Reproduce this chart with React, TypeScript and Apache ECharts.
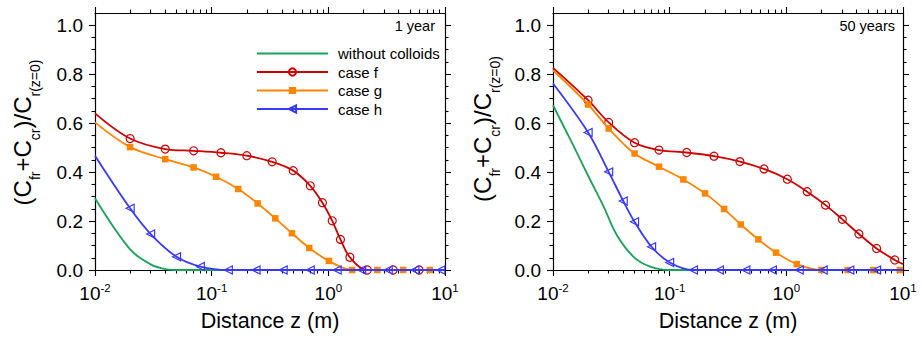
import React, { useEffect, useRef } from "react";
import * as echarts from "echarts";

const FONT = "'Liberation Sans', Arial, Helvetica, sans-serif";

// Tick values
const xMinorTicks = [
  0.02, 0.03, 0.04, 0.05, 0.06, 0.07, 0.08, 0.09,
  0.2, 0.3, 0.4, 0.5, 0.6, 0.7, 0.8, 0.9,
  2, 3, 4, 5, 6, 7, 8, 9,
];
const yMajorTicks = [0, 0.2, 0.4, 0.6, 0.8, 1.0];
const yMinorTicks = [0.05, 0.1, 0.15, 0.25, 0.3, 0.35, 0.45, 0.5, 0.55, 0.65, 0.7, 0.75, 0.85, 0.9, 0.95];

const seriesNames = ["without colloids", "case f", "case g", "case h"];
const panelTitles = ["1 year", "50 years"];
// y title pieces: [text, isSubscript]
const yTitleParts: [string, boolean][] = [
  ["(C", false], ["fr", true], ["+C", false], ["cr", true], [")/C", false], ["r(z=0)", true],
];
const xTitle = "Distance z (m)";

// Panel 1: 1 year
const noColloids1: [number, number][] = [
  [0.01, 0.293], [0.02, 0.084], [0.03, 0.023], [0.04, 0.004], [0.055, 0], [10, 0],
];
const caseF1: [number, number][] = [
  [0.01, 0.64], [0.02, 0.537], [0.04, 0.494], [0.07, 0.487], [0.12, 0.479], [0.2, 0.467],
  [0.33, 0.442], [0.5, 0.406], [0.7, 0.344], [0.89, 0.275], [1.08, 0.201], [1.27, 0.125],
  [1.53, 0.052], [2.16, 0], [3.6, 0], [6.0, 0], [10, 0],
];
const caseG1: [number, number][] = [
  [0.01, 0.603], [0.02, 0.502], [0.04, 0.453], [0.07, 0.419], [0.109, 0.381], [0.169, 0.331],
  [0.248, 0.272], [0.351, 0.211], [0.488, 0.15], [0.686, 0.09], [1.01, 0.037], [1.6, 0],
  [2.63, 0], [4.38, 0], [7.4, 0], [10, 0],
];
const caseH1: [number, number][] = [
  [0.01, 0.467], [0.02, 0.252], [0.03, 0.147], [0.05, 0.054], [0.08, 0.014], [0.139, 0],
  [0.24, 0], [0.41, 0], [0.7, 0], [1.19, 0], [1.93, 0], [3.26, 0], [5.52, 0], [9.2, 0], [10, 0],
];

// Panel 2: 50 years
const noColloids2: [number, number][] = [
  [0.01, 0.673], [0.015, 0.507], [0.02, 0.385], [0.027, 0.262], [0.035, 0.145], [0.049, 0.054],
  [0.068, 0.014], [0.1, 0], [10, 0],
];
const caseF2: [number, number][] = [
  [0.01, 0.826], [0.02, 0.694], [0.03, 0.603], [0.05, 0.52], [0.081, 0.49], [0.14, 0.48],
  [0.24, 0.465], [0.4, 0.443], [0.644, 0.413], [1.02, 0.371], [1.51, 0.32], [2.17, 0.265],
  [3.02, 0.207], [4.19, 0.147], [5.94, 0.088], [8.5, 0.041], [10, 0.024],
];
const caseG2: [number, number][] = [
  [0.01, 0.816], [0.02, 0.676], [0.03, 0.578], [0.05, 0.476], [0.081, 0.422], [0.131, 0.37],
  [0.201, 0.313], [0.293, 0.249], [0.407, 0.186], [0.576, 0.125], [0.817, 0.071], [1.23, 0.024],
  [2.0, 0], [3.35, 0], [5.56, 0], [9.4, 0], [10, 0],
];
const caseH2: [number, number][] = [
  [0.01, 0.762], [0.02, 0.562], [0.03, 0.401], [0.04, 0.282], [0.05, 0.197], [0.07, 0.095],
  [0.1, 0.031], [0.16, 0], [0.267, 0], [0.45, 0], [0.76, 0], [1.29, 0], [2.07, 0], [3.5, 0],
  [5.94, 0], [10, 0],
];

const COLORS = ["#18a35a", "#d00000", "#ff8400", "#3838ff"];

const panelData = [
  [noColloids1, caseF1, caseG1, caseH1],
  [noColloids2, caseF2, caseG2, caseH2],
];

const GRIDS = [
  { left: 95, top: 13, width: 350, height: 257 },
  { left: 553, top: 13, width: 350, height: 257 },
];
// y-title anchor (centre of main glyph line)
const Y_TITLE_POS = [
  [22, 132.5],
  [482, 129],
];
const MAIN_SIZE = 24;
const SUB_SIZE = 14;
const SUB_SHIFT = 13;

function measure(text: string, size: number) {
  const c = document.createElement("canvas").getContext("2d");
  if (!c) return text.length * size * 0.55;
  c.font = `${size}px 'Liberation Sans', Arial, sans-serif`;
  return c.measureText(text).width;
}

function yTitleGraphic(cx: number, cy: number) {
  const widths = yTitleParts.map(([t, sub]) => measure(t, sub ? SUB_SIZE : MAIN_SIZE));
  const total = widths.reduce((a, b) => a + b, 0);
  let pos = -total / 2;
  const children = yTitleParts.map(([t, sub], i) => {
    const el = {
      type: "text",
      x: pos,
      y: sub ? SUB_SHIFT : 0,
      style: {
        text: t,
        fontFamily: FONT,
        fontSize: sub ? SUB_SIZE : MAIN_SIZE,
        fill: "#000",
        align: "left",
        verticalAlign: "middle",
      },
    };
    pos += widths[i];
    return el;
  });
  return { type: "group", x: cx, y: cy, rotation: Math.PI / 2, children };
}

function buildAxes(g: number) {
  const axisLine = { show: true, onZero: false, lineStyle: { color: "#000", width: 1.2 } };
  const noLine = { show: false, onZero: false };
  const majorTick = { show: true, inside: false, length: 6, lineStyle: { color: "#000", width: 1.1 } };
  const minorTick = { show: true, inside: false, length: 3.5, lineStyle: { color: "#000", width: 1.1 } };
  const minorX = xMinorTicks.map((v) => Math.log10(v));
  const xa: any[] = [
    {
      type: "log", logBase: 10, gridIndex: g, position: "bottom", min: 0.01, max: 10,
      axisLine, axisTick: majorTick, splitLine: { show: false }, minorTick: { show: false },
      axisLabel: {
        show: true, margin: 12, color: "#000", fontFamily: FONT, fontSize: 19, lineHeight: 22,
        formatter: (v: number) => `10{sup|${Math.round(Math.log10(v))}}`,
        rich: { sup: { fontSize: 11.5, lineHeight: 11, verticalAlign: "top", fontFamily: FONT, color: "#000" } },
      },
      name: xTitle, nameLocation: "middle", nameGap: 40,
      nameTextStyle: { fontFamily: FONT, fontSize: 21.5, color: "#000" },
    },
    {
      type: "value", gridIndex: g, position: "bottom", min: -2, max: 1,
      axisLine: noLine, splitLine: { show: false }, axisLabel: { show: false },
      axisTick: { ...minorTick, customValues: minorX },
    },
    {
      type: "log", logBase: 10, gridIndex: g, position: "top", min: 0.01, max: 10,
      axisLine, axisTick: majorTick, splitLine: { show: false }, axisLabel: { show: false },
    },
    {
      type: "value", gridIndex: g, position: "top", min: -2, max: 1,
      axisLine: noLine, splitLine: { show: false }, axisLabel: { show: false },
      axisTick: { ...minorTick, customValues: minorX },
    },
  ];
  const ya: any[] = [
    {
      type: "value", gridIndex: g, position: "left", min: 0, max: 1.05,
      axisLine, splitLine: { show: false },
      axisTick: { ...majorTick, customValues: yMajorTicks },
      axisLabel: {
        show: true, customValues: yMajorTicks, margin: 12, color: "#000", fontFamily: FONT, fontSize: 19,
        formatter: (v: number) => v.toFixed(1),
      },
    },
    {
      type: "value", gridIndex: g, position: "left", min: 0, max: 1.05,
      axisLine: noLine, splitLine: { show: false }, axisLabel: { show: false },
      axisTick: { ...minorTick, customValues: yMinorTicks },
    },
    {
      type: "value", gridIndex: g, position: "right", min: 0, max: 1.05,
      axisLine, splitLine: { show: false }, axisLabel: { show: false },
      axisTick: { ...majorTick, customValues: yMajorTicks },
    },
    {
      type: "value", gridIndex: g, position: "right", min: 0, max: 1.05,
      axisLine: noLine, splitLine: { show: false }, axisLabel: { show: false },
      axisTick: { ...minorTick, customValues: yMinorTicks },
    },
  ];
  return { xa, ya };
}

function buildSeries(g: number) {
  const out: any[] = [];
  panelData[g].forEach((data, k) => {
    const color = COLORS[k];
    const base: any = {
      name: seriesNames[k],
      type: "line",
      xAxisIndex: g * 4,
      yAxisIndex: g * 4,
      smooth: 0.35,
      clip: true,
      lineStyle: { color, width: 1.8 },
      color,
      z: 2 + k,
    };
    if (k === 0) {
      base.symbol = "circle";
      base.symbolSize = 0;
      base.showSymbol = false;
      base.itemStyle = { color: "rgba(255,255,255,0)", borderWidth: 0 };
      base.data = data.map((p) => p);
    } else {
      if (k === 1) {
        base.symbol = "circle";
        base.symbolSize = 8;
        base.itemStyle = { color: "rgba(255,255,255,0)", borderColor: color, borderWidth: 1.2 };
      } else if (k === 2) {
        base.symbol = "rect";
        base.symbolSize = 6.5;
        base.itemStyle = { color, borderColor: color, borderWidth: 0 };
      } else {
        base.symbol = "triangle";
        base.symbolSize = 8;
        base.symbolRotate = 90;
        base.itemStyle = { color: "rgba(255,255,255,0)", borderColor: color, borderWidth: 1.2 };
      }
      base.showSymbol = true;
      base.data = data.map((p, i) =>
        i === 0 || i === data.length - 1 ? { value: p, symbol: "none" } : p
      );
    }
    out.push(base);
  });
  return out;
}

export default function App() {
  const ref = useRef<HTMLDivElement>(null);
  useEffect(() => {
    if (!ref.current) return;
    const chart = echarts.init(ref.current, undefined, { renderer: "svg" });
    const a0 = buildAxes(0);
    const a1 = buildAxes(1);
    const option: any = {
      animation: false,
      backgroundColor: "#fff",
      textStyle: { fontFamily: FONT },
      grid: GRIDS.map((g) => ({ ...g, containLabel: false })),
      xAxis: [...a0.xa, ...a1.xa],
      yAxis: [...a0.ya, ...a1.ya],
      legend: {
        show: true,
        orient: "vertical",
        left: 251,
        top: 41,
        itemWidth: 71,
        itemHeight: 9,
        itemGap: 3.5,
        selectedMode: false,
        data: seriesNames,
        textStyle: { fontFamily: FONT, fontSize: 15, color: "#000", padding: [0, 0, 0, 5] },
      },
      graphic: [
        yTitleGraphic(Y_TITLE_POS[0][0], Y_TITLE_POS[0][1]),
        yTitleGraphic(Y_TITLE_POS[1][0], Y_TITLE_POS[1][1]),
        {
          type: "text", x: 435, y: 26,
          style: { text: panelTitles[0], fontFamily: FONT, fontSize: 14.5, fill: "#000", align: "right", verticalAlign: "middle" },
        },
        {
          type: "text", x: 895, y: 26,
          style: { text: panelTitles[1], fontFamily: FONT, fontSize: 14.5, fill: "#000", align: "right", verticalAlign: "middle" },
        },
      ],
      series: [...buildSeries(0), ...buildSeries(1)],
    };
    chart.setOption(option);
    return () => chart.dispose();
  }, []);
  return (
    <div
      ref={ref}
      style={{ position: "fixed", left: 0, top: 0, width: 922, height: 339, background: "#fff" }}
    />
  );
}
